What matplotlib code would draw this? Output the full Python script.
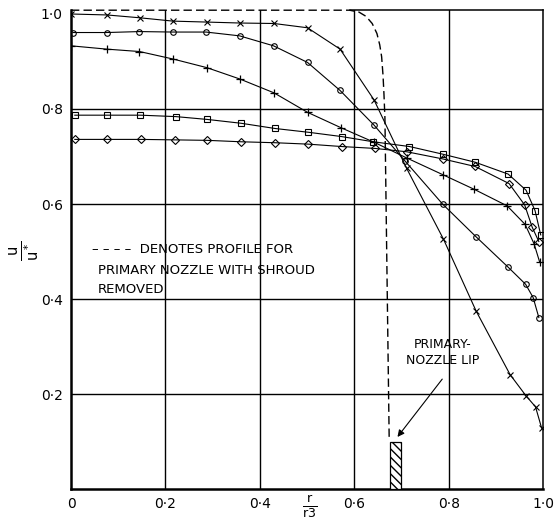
import matplotlib.pyplot as plt

# velocity traverses, u/u* against r/r3
cross_r = [0.0, 0.076, 0.146, 0.216, 0.288, 0.358, 0.430, 0.501, 0.570, 0.642, 0.711, 0.789, 0.858, 0.930, 0.964, 0.984, 0.997]
cross_u = [1.0, 0.998, 0.992, 0.985, 0.983, 0.981, 0.980, 0.971, 0.926, 0.819, 0.675, 0.526, 0.375, 0.241, 0.196, 0.173, 0.128]

circ_r = [0.004, 0.076, 0.145, 0.216, 0.286, 0.357, 0.429, 0.501, 0.570, 0.642, 0.708, 0.787, 0.858, 0.926, 0.963, 0.979, 0.991]
circ_u = [0.961, 0.961, 0.963, 0.962, 0.962, 0.954, 0.933, 0.898, 0.839, 0.766, 0.690, 0.600, 0.531, 0.467, 0.431, 0.403, 0.361]

plus_r = [0.0, 0.076, 0.145, 0.217, 0.288, 0.358, 0.430, 0.501, 0.571, 0.642, 0.711, 0.787, 0.854, 0.924, 0.962, 0.981, 0.993]
plus_u = [0.933, 0.926, 0.921, 0.905, 0.887, 0.863, 0.834, 0.793, 0.761, 0.730, 0.697, 0.662, 0.631, 0.596, 0.557, 0.516, 0.477]

sq_r = [0.008, 0.076, 0.147, 0.222, 0.289, 0.360, 0.432, 0.503, 0.573, 0.640, 0.717, 0.787, 0.856, 0.926, 0.964, 0.983, 0.995]
sq_u = [0.787, 0.787, 0.787, 0.784, 0.778, 0.770, 0.759, 0.751, 0.742, 0.731, 0.721, 0.705, 0.688, 0.663, 0.629, 0.586, 0.535]

dia_r = [0.008, 0.076, 0.148, 0.220, 0.289, 0.360, 0.432, 0.503, 0.573, 0.644, 0.711, 0.787, 0.856, 0.928, 0.961, 0.977, 0.991]
dia_u = [0.736, 0.736, 0.736, 0.735, 0.734, 0.731, 0.729, 0.726, 0.721, 0.717, 0.710, 0.695, 0.679, 0.643, 0.598, 0.551, 0.521]

# profile with the shroud removed
prof_r = [0.0, 0.59, 0.61, 0.625, 0.638, 0.648, 0.654, 0.658, 0.661, 0.663, 0.665, 0.674]
prof_u = [1.008, 1.008, 1.004, 0.995, 0.98, 0.959, 0.935, 0.91, 0.87, 0.83, 0.78, 0.105]

# primary nozzle lip
lip_r = 0.688
lip_w = 0.024
lip_h = 0.10

xticks = [0, 0.2, 0.4, 0.6, 0.8, 1.0]
xlabels = ['0', '0·2', '0·4', '0·6', '0·8', '1·0']
yticks = [0.2, 0.4, 0.6, 0.8, 1.0]
ylabels = ['0·2', '0·4', '0·6', '0·8', '1·0']

fig = plt.figure(figsize=(5.57, 5.23), dpi=100)
ax = fig.add_axes([0.1275, 0.065, 0.8475, 0.9155])

for v in [0.2, 0.4, 0.6, 0.8]:
    ax.axvline(v, color='k', lw=1.0, zorder=1)
    ax.axhline(v, color='k', lw=1.0, zorder=1)

lw = 0.8
ax.plot(cross_r, cross_u, color='k', lw=lw, marker='x', ms=4, mew=0.8)
ax.plot(circ_r, circ_u, color='k', lw=lw, marker='o', ms=4, mfc='none', mew=0.8)
ax.plot(plus_r, plus_u, color='k', lw=lw, marker='+', ms=6, mew=0.9)
ax.plot(sq_r, sq_u, color='k', lw=lw, marker='s', ms=4, mfc='none', mew=0.8)
ax.plot(dia_r, dia_u, color='k', lw=lw, marker='D', ms=4.2, mfc='none', mew=0.8)

ax.plot(prof_r, prof_u, color='k', lw=1.0, ls=(0, (6, 3)), clip_on=False)

ax.bar(lip_r, lip_h, width=lip_w, color='white', edgecolor='k', lw=0.9, hatch='\\\\\\\\', zorder=3)

ax.set_xlim(0, 1.0)
ax.set_ylim(0, 1.008)
ax.set_xticks(xticks)
ax.set_xticklabels(xlabels)
ax.set_yticks(yticks)
ax.set_yticklabels(ylabels)
ax.tick_params(length=0, labelsize=10, pad=6)

for s in ['left', 'bottom']:
    ax.spines[s].set_linewidth(1.8)
ax.spines['right'].set_linewidth(1.1)
ax.spines['top'].set_linewidth(1.1)
ax.spines['top'].set_bounds(0.59, 1.0)

ax.text(0.506, -0.038, r'$\frac{\mathrm{r}}{\mathrm{r}3}$', fontsize=13,
        ha='center', va='center', clip_on=False)
ax.text(-0.1, 0.503, r'$\frac{\mathrm{u}}{\mathrm{u}^*}$', fontsize=15,
        rotation=90, ha='center', va='center', clip_on=False)

ax.text(0.045, 0.505, '– – – –  DENOTES PROFILE FOR', fontsize=9.5, va='center')
ax.text(0.057, 0.459, 'PRIMARY NOZZLE WITH SHROUD', fontsize=9.5, va='center')
ax.text(0.057, 0.421, 'REMOVED', fontsize=9.5, va='center')

ax.text(0.788, 0.287, 'PRIMARY-\nNOZZLE LIP', fontsize=9, ha='center', va='center',
        linespacing=1.3)
ax.annotate('', xy=(0.688, 0.105), xytext=(0.79, 0.236),
            arrowprops=dict(arrowstyle='-|>', color='k', lw=0.8, mutation_scale=10))

fig.savefig('out.png', dpi=100)
